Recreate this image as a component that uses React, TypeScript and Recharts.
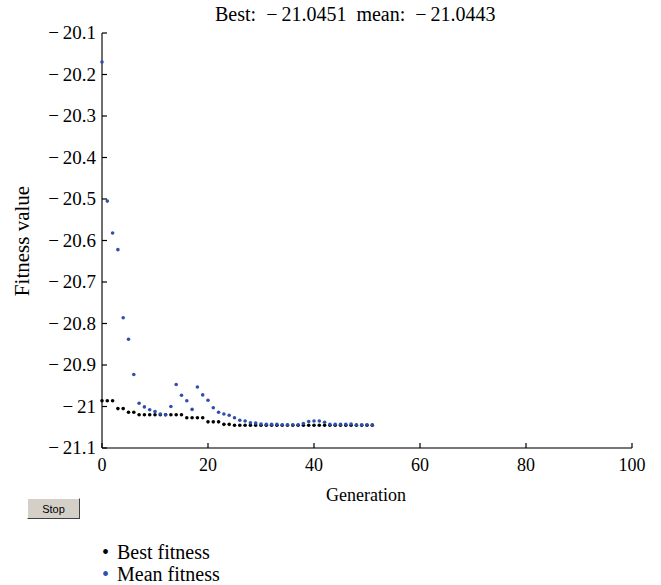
import React from "react";
import { ScatterChart, Scatter, XAxis, YAxis } from "recharts";

const generations: number[] = Array.from({ length: 52 }, (_, i) => i);

const bestFitness: number[] = [
  -20.986, -20.986, -20.986, -21.005, -21.005, -21.014, -21.014, -21.02, -21.02, -21.02,
  -21.02, -21.02, -21.02, -21.02, -21.02, -21.02, -21.027, -21.027, -21.027, -21.027,
  -21.037, -21.037, -21.037, -21.043, -21.043, -21.045, -21.045, -21.045, -21.045, -21.045,
  -21.045, -21.045, -21.045, -21.045, -21.045, -21.045, -21.045, -21.045, -21.045, -21.045,
  -21.045, -21.045, -21.045, -21.045, -21.045, -21.045, -21.045, -21.045, -21.045, -21.045,
  -21.045, -21.0451,
];

const meanFitness: number[] = [
  -20.17, -20.505, -20.582, -20.622, -20.786, -20.838, -20.923, -20.992, -21.001, -21.008,
  -21.012, -21.018, -21.02, -21.0, -20.947, -20.973, -20.986, -21.007, -20.953, -20.972,
  -20.985, -21.003, -21.014, -21.018, -21.021, -21.027, -21.033, -21.035, -21.039, -21.04,
  -21.042, -21.043, -21.043, -21.043, -21.044, -21.044, -21.044, -21.044, -21.041, -21.036,
  -21.035, -21.035, -21.038, -21.043, -21.043, -21.043, -21.043, -21.042, -21.044, -21.044,
  -21.044, -21.0443,
];

const xTicks: number[] = [0, 20, 40, 60, 80, 100];
const yTicks: number[] = [-21.1, -21.0, -20.9, -20.8, -20.7, -20.6, -20.5, -20.4, -20.3, -20.2, -20.1];

const titleParts: string[] = ["Best:", "\u2212", "21.0451", "mean:", "\u2212", "21.0443"];
const xLabel = "Generation";
const yLabel = "Fitness value";
const legendItems = [
  { name: "Best fitness", color: "#000000" },
  { name: "Mean fitness", color: "#2f50aa" },
];

const bestData = generations.map((g, i) => ({ x: g, y: bestFitness[i] }));
const meanData = generations.map((g, i) => ({ x: g, y: meanFitness[i] }));

const FONT = "Liberation Serif";

const fmtY = (v: number) => {
  const a = parseFloat(Math.abs(v).toFixed(1));
  return (v < 0 ? "\u2212\u2009" : "") + String(a);
};

const YTick = (props: any) => {
  const { x, y, payload } = props;
  return (
    <g>
      <line x1={x} x2={x + 5} y1={y} y2={y} stroke="#000" strokeWidth={1.2} />
      <text x={x - 6} y={y} dy={6} textAnchor="end" fontFamily={FONT} fontSize={19} fill="#000">
        {fmtY(payload.value)}
      </text>
    </g>
  );
};

const XTick = (props: any) => {
  const { x, y, payload } = props;
  return (
    <g>
      <line x1={x} x2={x} y1={y} y2={y - 5} stroke="#000" strokeWidth={1.2} />
      <text x={x} y={y + 23} textAnchor="middle" fontFamily={FONT} fontSize={18} fill="#000">
        {String(payload.value)}
      </text>
    </g>
  );
};

const makeDot = (color: string) => (p: any) => (
  <circle cx={p.cx} cy={p.cy} r={1.8} fill={color} />
);

export default function App() {
  return (
    <div style={{ position: "absolute", left: 0, top: 0, width: 661, height: 585, background: "#fff" }}>
      <ScatterChart
        width={661}
        height={585}
        margin={{ top: 33, right: 29, bottom: 107, left: 42 }}
      >
        <XAxis
          type="number"
          dataKey="x"
          domain={[0, 100]}
          ticks={xTicks}
          interval={0}
          height={30}
          tickSize={0}
          tickMargin={0}
          tickLine={false}
          axisLine={{ stroke: "#4a4a4a", strokeWidth: 1.6 }}
          tick={<XTick />}
        />
        <YAxis
          type="number"
          dataKey="y"
          domain={[-21.1, -20.1]}
          ticks={yTicks}
          interval={0}
          width={60}
          tickSize={0}
          tickMargin={0}
          tickLine={false}
          axisLine={{ stroke: "#4a4a4a", strokeWidth: 1.6 }}
          tick={<YTick />}
        />
        <Scatter data={bestData} fill="#000" shape={makeDot("#000000")} isAnimationActive={false} />
        <Scatter data={meanData} fill="#2f50aa" shape={makeDot("#2f50aa")} isAnimationActive={false} />
      </ScatterChart>

      <div style={{ position: "absolute", left: 215, top: 2, fontFamily: FONT, fontSize: 20, color: "#000", whiteSpace: "nowrap", lineHeight: "24px" }}>
        <span>{titleParts[0]}</span>
        <span style={{ marginLeft: 10 }}>{titleParts[1]}</span>
        <span style={{ marginLeft: 4 }}>{titleParts[2]}</span>
        <span style={{ marginLeft: 10 }}>{titleParts[3]}</span>
        <span style={{ marginLeft: 10 }}>{titleParts[4]}</span>
        <span style={{ marginLeft: 4 }}>{titleParts[5]}</span>
      </div>

      <div style={{ position: "absolute", left: 22, top: 241, width: 0, height: 0 }}>
        <div style={{ position: "absolute", left: -80, top: -12, width: 160, textAlign: "center", transform: "rotate(-90deg)", fontFamily: FONT, fontSize: 21, color: "#000", whiteSpace: "nowrap", lineHeight: "24px" }}>
          {yLabel}
        </div>
      </div>

      <div style={{ position: "absolute", left: 266, top: 485, width: 200, textAlign: "center", fontFamily: FONT, fontSize: 18, color: "#000" }}>
        {xLabel}
      </div>

      <div style={{ position: "absolute", left: 27, top: 498, width: 51, height: 19, background: "#d4d0c8", borderTop: "1px solid #ffffff", borderLeft: "1px solid #ffffff", borderRight: "1px solid #404040", borderBottom: "1px solid #404040", boxSizing: "content-box", display: "flex", alignItems: "center", justifyContent: "center", fontFamily: '"Liberation Sans", Arial, sans-serif', fontSize: 11, color: "#000" }}>
        Stop
      </div>

      <div style={{ position: "absolute", left: 102, top: 541, fontFamily: FONT, fontSize: 20, color: "#000", lineHeight: "22px" }}>
        {legendItems.map((it) => (
          <div key={it.name} style={{ whiteSpace: "nowrap" }}>
            <span style={{ color: it.color, marginRight: 8 }}>{"\u2022"}</span>
            <span>{it.name}</span>
          </div>
        ))}
      </div>
    </div>
  );
}
